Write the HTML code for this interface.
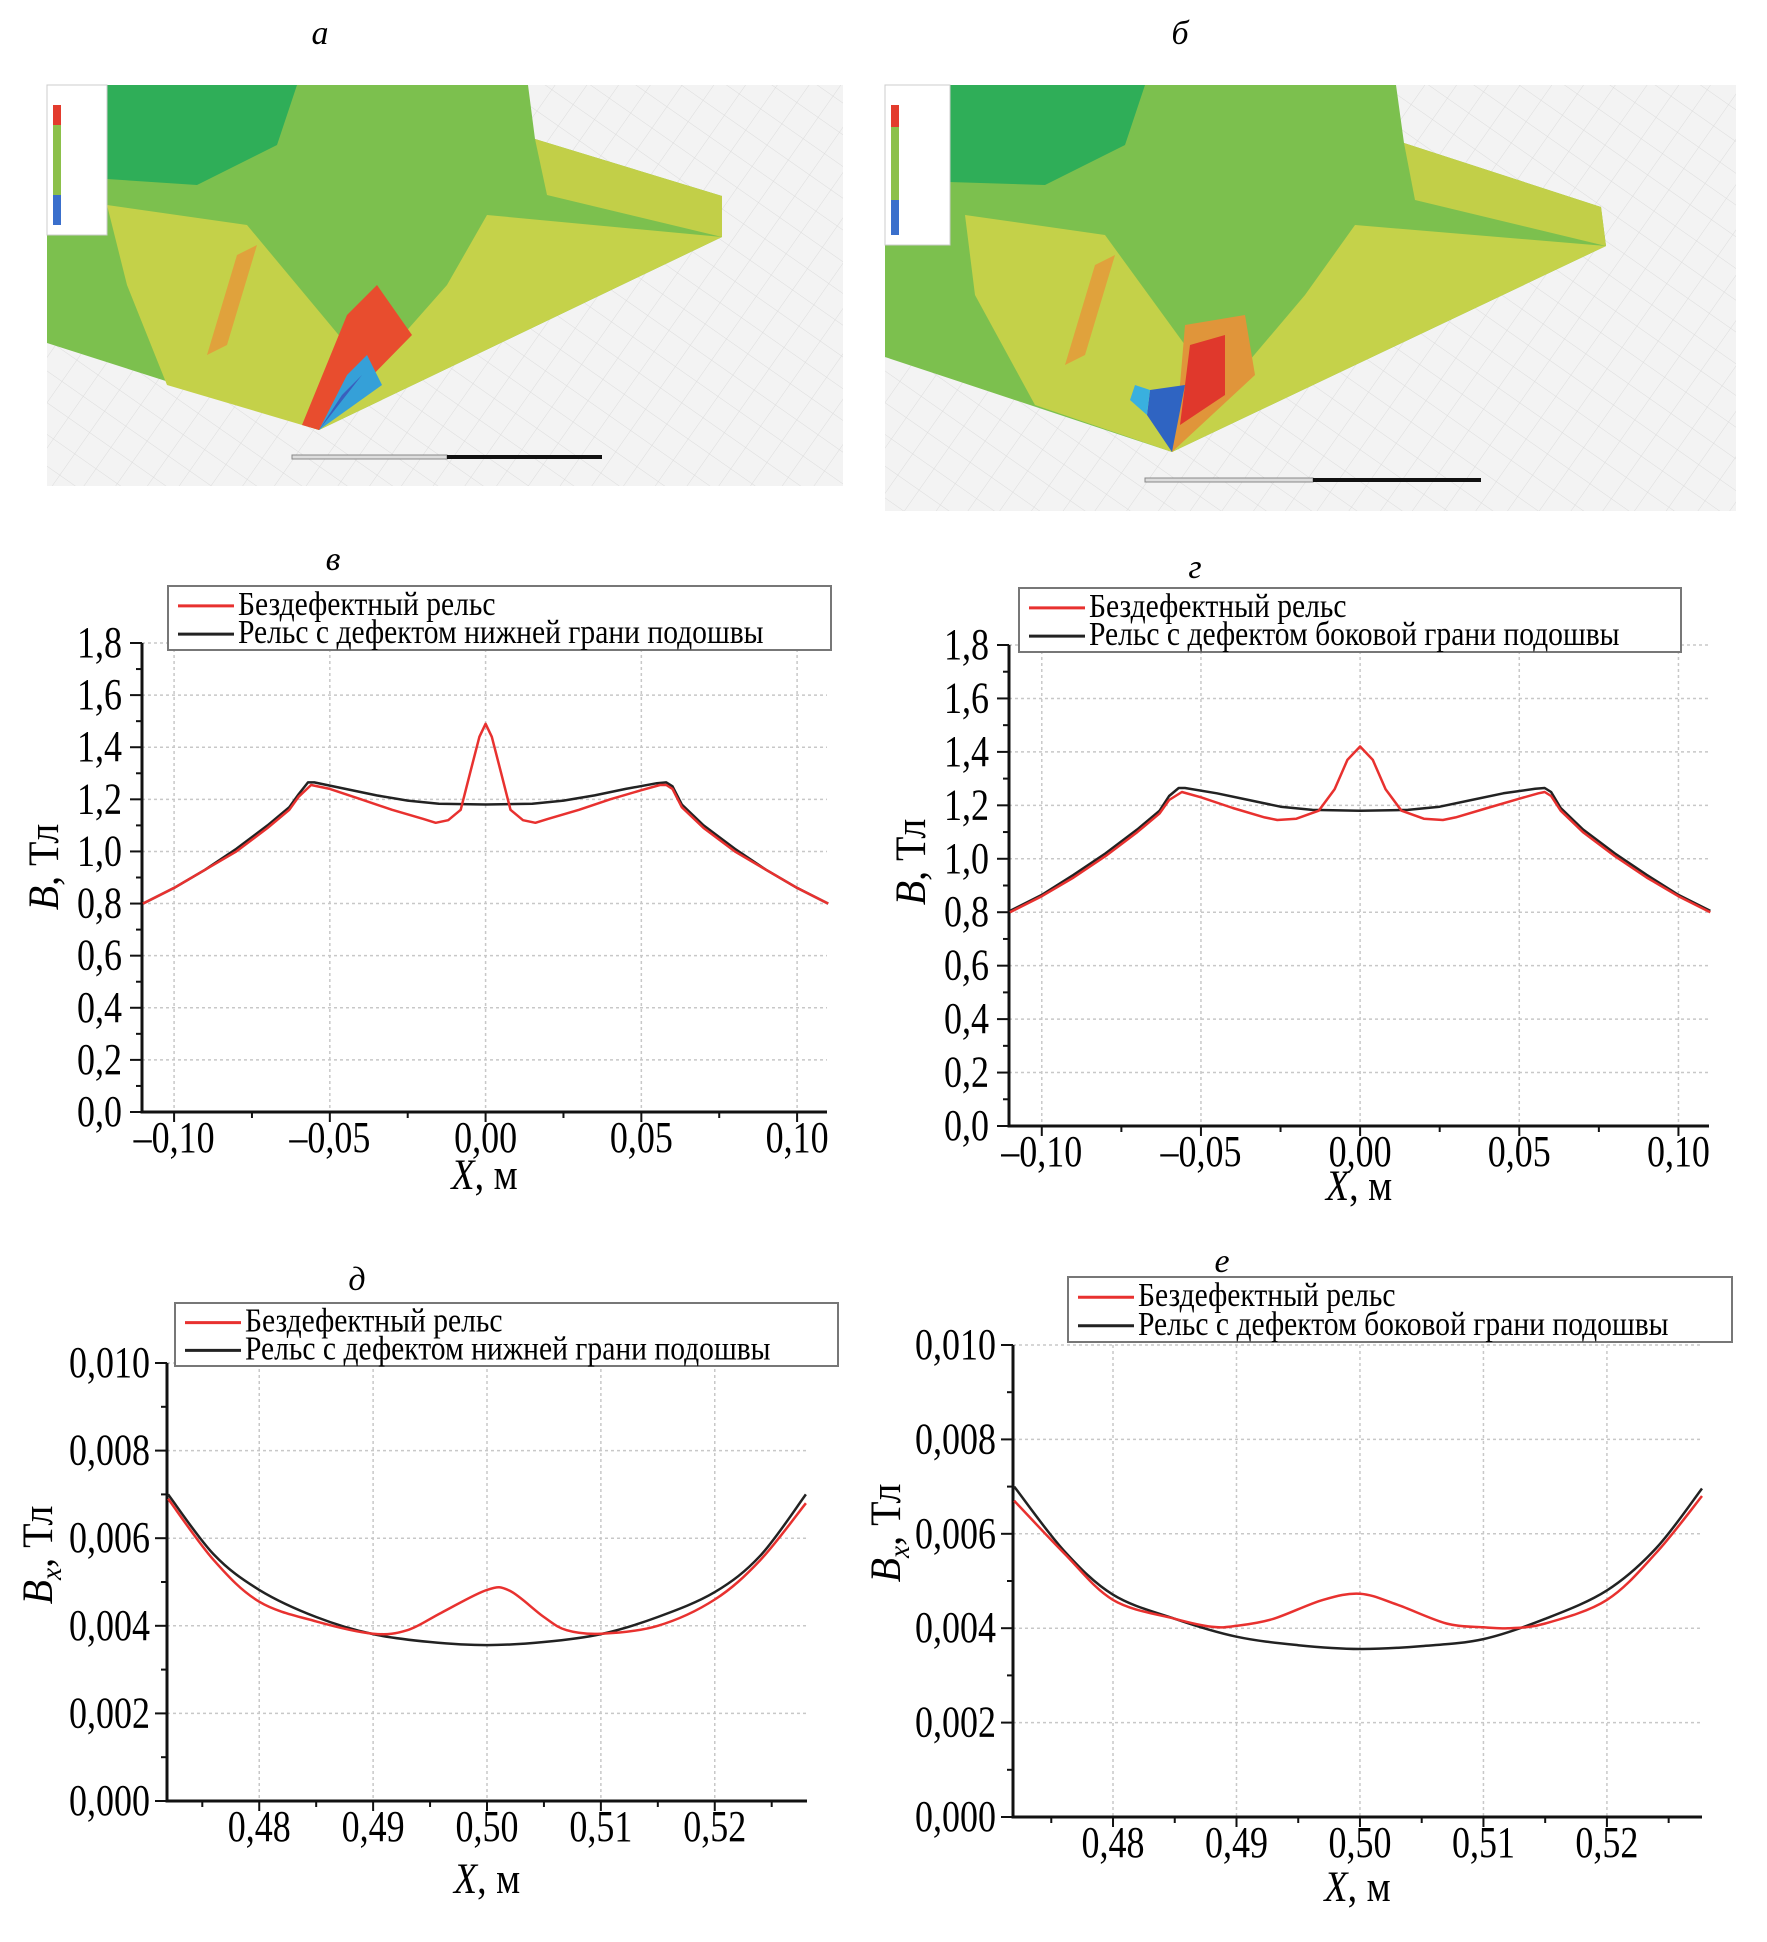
<!DOCTYPE html>
<html><head><meta charset="utf-8"><style>
html,body{margin:0;padding:0;background:#fff;}
svg{display:block;font-family:"Liberation Serif",serif;}
</style></head><body>
<svg id="root" width="1767" height="1942" viewBox="0 0 1767 1942" xmlns="http://www.w3.org/2000/svg">
<defs>
<pattern id="grid" width="26" height="26" patternUnits="userSpaceOnUse" patternTransform="rotate(35)">
<path d="M0 0H26M0 0V26" stroke="#dcdcdc" stroke-width="1" fill="none"/>
</pattern>
</defs>
<text x="320" y="44" font-size="34" font-style="italic" text-anchor="middle">а</text>
<text x="1180" y="44" font-size="34" font-style="italic" text-anchor="middle">б</text>
<text x="333" y="570" font-size="34" font-style="italic" text-anchor="middle">в</text>
<text x="1195" y="578" font-size="34" font-style="italic" text-anchor="middle">г</text>
<text x="357" y="1290" font-size="34" font-style="italic" text-anchor="middle">д</text>
<text x="1222" y="1272" font-size="34" font-style="italic" text-anchor="middle">е</text>

<g transform="translate(47,85)">
<rect width="796" height="401" fill="#f3f3f3"/>
<rect width="796" height="401" fill="url(#grid)"/>
<polygon points="0,0 481,0 488,54 675,111 675,152 272,345 0,258" fill="#7cc04e"/>
<polygon points="0,0 250,0 230,60 150,100 0,90" fill="#2fae58"/>
<polygon points="488,54 675,111 675,152 500,110" fill="#c2cf48"/>
<polygon points="440,130 675,152 272,345 400,200" fill="#c5d24a"/>
<polygon points="60,120 200,140 300,260 272,345 120,300 80,200" fill="#c4d149"/>
<polygon points="190,170 210,160 180,260 160,270" fill="#e0a23c"/>
<polygon points="300,230 330,200 365,250 272,345 255,340" fill="#e84d2e"/>
<polygon points="300,290 320,270 335,300 272,345" fill="#35a0d8"/>
<polygon points="295,310 315,290 272,345" fill="#3a5fbd"/>
<rect x="0" y="0" width="60" height="150" fill="#fff" stroke="#ccc"/>
<rect x="6" y="20" width="8" height="120" fill="#8cc04a"/>
<rect x="6" y="20" width="8" height="20" fill="#e33b2d"/>
<rect x="6" y="110" width="8" height="30" fill="#3a6fcc"/>
<rect x="245" y="370" width="155" height="4" fill="#ddd" stroke="#888"/>
<rect x="400" y="370" width="155" height="4" fill="#111"/>
</g>
<g transform="translate(885,85)">
<rect width="851" height="426" fill="#f3f3f3"/>
<rect width="851" height="426" fill="url(#grid)"/>
<polygon points="0,0 511,0 519,58 716,122 721,161 287,367 0,272" fill="#7cc04e"/>
<polygon points="0,0 260,0 240,60 160,100 0,95" fill="#2fae58"/>
<polygon points="519,58 716,122 721,161 530,115" fill="#c2cf48"/>
<polygon points="470,140 721,161 287,367 420,210" fill="#c5d24a"/>
<polygon points="80,130 220,150 300,260 287,367 150,320 90,210" fill="#c4d149"/>
<polygon points="210,180 230,170 200,270 180,280" fill="#e0a23c"/>
<polygon points="300,240 360,230 370,290 287,367 295,300" fill="#e0953a"/>
<polygon points="305,260 340,250 340,310 295,340" fill="#e0382c"/>
<polygon points="265,305 300,300 287,367 262,330" fill="#2f64c2"/>
<polygon points="250,300 265,305 262,330 245,315" fill="#39b0df"/>
<rect x="0" y="0" width="65" height="160" fill="#fff" stroke="#ccc"/>
<rect x="6" y="20" width="8" height="130" fill="#8cc04a"/>
<rect x="6" y="20" width="8" height="22" fill="#e33b2d"/>
<rect x="6" y="115" width="8" height="35" fill="#3a6fcc"/>
<rect x="260" y="393" width="168" height="4" fill="#ddd" stroke="#888"/>
<rect x="428" y="393" width="168" height="4" fill="#111"/>
</g>
<g id="charts"></g>
</svg>
<script>
// ---- Chart в data ----
const vX_black = [-0.11,-0.1,-0.09,-0.08,-0.07,-0.063,-0.06,-0.057,-0.055,-0.045,-0.035,-0.025,-0.015,0,0.015,0.025,0.035,0.045,0.055,0.058,0.06,0.063,0.07,0.08,0.09,0.1,0.11];
const vY_black = [0.80,0.86,0.93,1.01,1.10,1.17,1.22,1.265,1.265,1.24,1.215,1.195,1.183,1.18,1.183,1.195,1.215,1.24,1.262,1.265,1.25,1.18,1.10,1.01,0.93,0.86,0.80];
const vX_red = [-0.11,-0.1,-0.09,-0.08,-0.07,-0.063,-0.06,-0.056,-0.05,-0.04,-0.03,-0.02,-0.016,-0.012,-0.008,-0.005,-0.002,0,0.002,0.005,0.008,0.012,0.016,0.02,0.03,0.04,0.05,0.056,0.058,0.06,0.063,0.07,0.08,0.09,0.1,0.11];
const vY_red = [0.80,0.86,0.93,1.00,1.09,1.16,1.21,1.255,1.24,1.20,1.16,1.125,1.11,1.12,1.16,1.30,1.44,1.49,1.44,1.30,1.16,1.12,1.11,1.125,1.16,1.20,1.235,1.255,1.255,1.24,1.17,1.09,1.00,0.93,0.86,0.80];
const vXTicks = [-0.1,-0.05,0,0.05,0.1];
const vXTickLabels = ["–0,10","–0,05","0,00","0,05","0,10"];
const vYTicks = [0,0.2,0.4,0.6,0.8,1.0,1.2,1.4,1.6,1.8];
const vYTickLabels = ["0,0","0,2","0,4","0,6","0,8","1,0","1,2","1,4","1,6","1,8"];
// ---- Chart г data ----
const gX_black = [-0.11,-0.1,-0.09,-0.08,-0.07,-0.063,-0.06,-0.057,-0.055,-0.045,-0.035,-0.025,-0.015,0,0.015,0.025,0.035,0.045,0.055,0.058,0.06,0.063,0.07,0.08,0.09,0.1,0.11];
const gY_black = [0.805,0.865,0.94,1.02,1.11,1.18,1.235,1.265,1.265,1.245,1.22,1.195,1.183,1.18,1.183,1.195,1.22,1.245,1.262,1.265,1.25,1.19,1.11,1.02,0.94,0.865,0.805];
const gX_red = [-0.11,-0.1,-0.09,-0.08,-0.07,-0.063,-0.06,-0.056,-0.05,-0.04,-0.03,-0.026,-0.02,-0.013,-0.008,-0.004,0,0.004,0.008,0.013,0.02,0.026,0.03,0.04,0.05,0.056,0.058,0.06,0.063,0.07,0.08,0.09,0.1,0.11];
const gY_red = [0.80,0.86,0.93,1.01,1.10,1.17,1.22,1.25,1.23,1.19,1.155,1.145,1.15,1.18,1.26,1.37,1.42,1.37,1.26,1.18,1.15,1.145,1.155,1.19,1.225,1.245,1.25,1.235,1.18,1.10,1.01,0.93,0.86,0.80];
const gXTicks = [-0.1,-0.05,0,0.05,0.1];
const gXTickLabels = ["–0,10","–0,05","0,00","0,05","0,10"];
const gYTicks = [0,0.2,0.4,0.6,0.8,1.0,1.2,1.4,1.6,1.8];
const gYTickLabels = ["0,0","0,2","0,4","0,6","0,8","1,0","1,2","1,4","1,6","1,8"];
// ---- Chart д data ----
const dX_black = [0.472,0.476,0.48,0.485,0.49,0.495,0.5,0.505,0.51,0.515,0.52,0.524,0.528];
const dY_black = [0.0070,0.00563,0.00482,0.0042,0.00381,0.00363,0.00356,0.00363,0.00381,0.0042,0.00477,0.0056,0.0070];
const dX_red = [0.472,0.476,0.48,0.485,0.49,0.493,0.496,0.5,0.502,0.505,0.507,0.51,0.515,0.52,0.524,0.528];
const dY_red = [0.0069,0.0055,0.00455,0.0041,0.00382,0.0039,0.0043,0.00482,0.0048,0.0042,0.0039,0.00382,0.0040,0.0046,0.0055,0.0068];
const dXTicks = [0.48,0.49,0.50,0.51,0.52];
const dXTickLabels = ["0,48","0,49","0,50","0,51","0,52"];
const dYTicks = [0,0.002,0.004,0.006,0.008,0.010];
const dYTickLabels = ["0,000","0,002","0,004","0,006","0,008","0,010"];
// ---- Chart е data ----
const eX_black = [0.472,0.476,0.48,0.485,0.49,0.495,0.5,0.505,0.51,0.515,0.52,0.524,0.5277];
const eY_black = [0.0070,0.00565,0.00471,0.0042,0.00382,0.00364,0.00356,0.00362,0.00377,0.0042,0.0048,0.0057,0.00696];
const eX_red = [0.472,0.476,0.48,0.485,0.488,0.49,0.493,0.497,0.5,0.503,0.507,0.51,0.512,0.515,0.52,0.524,0.5277];
const eY_red = [0.0067,0.0056,0.0046,0.0042,0.00403,0.00405,0.0042,0.0046,0.00473,0.0045,0.0041,0.00402,0.0040,0.0041,0.0046,0.0056,0.0068];
const eXTicks = [0.48,0.49,0.50,0.51,0.52];
const eXTickLabels = ["0,48","0,49","0,50","0,51","0,52"];
const eYTicks = [0,0.002,0.004,0.006,0.008,0.010];
const eYTickLabels = ["0,000","0,002","0,004","0,006","0,008","0,010"];

const NS = "http://www.w3.org/2000/svg";
const host = document.getElementById('charts');
function mk(tag, attrs, parent){
  const e = document.createElementNS(NS, tag);
  for (const k in attrs) e.setAttribute(k, attrs[k]);
  (parent||host).appendChild(e);
  return e;
}
function stxt(parent, x, y, size, anchor, sx, sy){
  const w = mk('g', {transform:`translate(${x},${y}) scale(${sx},${sy})`}, parent);
  return mk('text', {x:0, y:0, 'font-size':size, 'text-anchor':anchor}, w);
}
function smoothPath(pts){
  let d = 'M' + pts[0][0].toFixed(1) + ',' + pts[0][1].toFixed(1);
  for (let i = 0; i < pts.length-1; i++){
    const p0 = pts[Math.max(0,i-1)], p1 = pts[i], p2 = pts[i+1], p3 = pts[Math.min(pts.length-1,i+2)];
    const c1 = [p1[0]+(p2[0]-p0[0])/6, p1[1]+(p2[1]-p0[1])/6];
    const c2 = [p2[0]-(p3[0]-p1[0])/6, p2[1]-(p3[1]-p1[1])/6];
    d += ` C${c1[0].toFixed(1)},${c1[1].toFixed(1)} ${c2[0].toFixed(1)},${c2[1].toFixed(1)} ${p2[0].toFixed(1)},${p2[1].toFixed(1)}`;
  }
  return d;
}
function chart(c){
  const g = mk('g', {});
  
  
  const sx = v => c.L + (v - c.xmin)/(c.xmax - c.xmin)*(c.R - c.L);
  const sy = v => c.B - (v - c.ymin)/(c.ymax - c.ymin)*(c.B - c.T);
  c.xt.forEach(v => {
    const l = mk('line', {x1:sx(v),x2:sx(v),y1:c.T,y2:c.B,stroke:'#c8c8c8','stroke-width':1.5,'stroke-dasharray':'3,3'}, g);
    
    
  });
  c.yt.forEach(v => {
    if (v === c.ymin) return;
    const l = mk('line', {x1:c.L,x2:c.R,y1:sy(v),y2:sy(v),stroke:'#c8c8c8','stroke-width':1.5,'stroke-dasharray':'3,3'}, g);
    
    
  });
  const ax = mk('path', {d:`M${c.L},${c.T} V${c.B} H${c.R}`, stroke:'#111','stroke-width':3, fill:'none'}, g);
  
  
  const dxT = c.xt[1]-c.xt[0];
  for (let v = c.xt[0]-dxT; v <= c.xmax+1e-9; v += dxT/2){
    if (v < c.xmin-1e-9) continue;
    const major = c.xt.some(t => Math.abs(t-v) < 1e-9);
    mk('line', {x1:sx(v),x2:sx(v),y1:c.B,y2:c.B+(major?10:6),stroke:'#111','stroke-width':2}, g);
  }
  const dyT = c.yt[1]-c.yt[0];
  for (let v = c.ymin; v <= c.ymax+1e-12; v += dyT/2){
    const major = c.yt.some(t => Math.abs(t-v) < 1e-12);
    mk('line', {x1:c.L-(major?12:6),x2:c.L,y1:sy(v),y2:sy(v),stroke:'#111','stroke-width':2}, g);
  }
  c.xt.forEach((v,i) => {
    const t = stxt(g, sx(v), c.B+40, 36, 'middle', 1, 1.22);
    t.textContent = c.xl[i];
    
    
  });
  c.yt.forEach((v,i) => {
    const t = stxt(g, c.L-c.ygap, sy(v)+14, 36, 'end', 1, 1.22);
    t.textContent = c.yl[i];
    
    
  });
  const xt = stxt(g, (c.L+c.R)/2, c.B+c.xtitleDy, 38, 'middle', 1, 1.15);
  xt.innerHTML = '<tspan font-style="italic">X</tspan>, м';
  
  
  const yt = mk('text', {x:0, y:0, 'font-size':38, 'text-anchor':'middle', transform:`translate(${c.ytx},${c.yty}) rotate(-90) scale(1.05,1.15)`}, g);
  yt.innerHTML = c.sub ? '<tspan font-style="italic">B</tspan><tspan font-style="italic" font-size="26" dy="8">x</tspan><tspan dy="-8">, Тл</tspan>' : '<tspan font-style="italic">B</tspan>, Тл';
  
  
  const line = (xs, ys, col, nm) => {
    const pts = xs.map((x,i) => [sx(x), sy(ys[i])]);
    const d = c.smooth ? smoothPath(pts) : pts.map((p,i) => (i?'L':'M') + p[0].toFixed(1) + ',' + p[1].toFixed(1)).join(' ');
    const p = mk('path', {d, stroke:col, 'stroke-width':2.5, fill:'none', 'stroke-linejoin':'round'}, g);
    
    
  };
  line(c.bx, c.by, '#222', 'defect-rail-line');
  line(c.rx, c.ry, '#e8312f', 'defect-free-rail-line');
  const lg = mk('g', {}, g);
  
  
  mk('rect', {x:c.lg[0], y:c.lg[1], width:c.lg[2]-c.lg[0], height:c.lg[3]-c.lg[1], fill:'#fff', stroke:'#777','stroke-width':2}, lg);
  const h = c.lg[3]-c.lg[1];
  const r1 = c.lg[1]+h*0.28, r2 = c.lg[1]+h*0.72;
  mk('line', {x1:c.lg[0]+10, x2:c.lg[0]+66, y1:r1+2, y2:r1+2, stroke:'#e8312f','stroke-width':3}, lg);
  mk('line', {x1:c.lg[0]+10, x2:c.lg[0]+66, y1:r2+2, y2:r2+2, stroke:'#222','stroke-width':3}, lg);
  const t1 = stxt(lg, c.lg[0]+70, r1+11, 29, 'start', 1.02, 1.18);
  t1.textContent = 'Бездефектный рельс';
  
  
  const t2 = stxt(lg, c.lg[0]+70, r2+11, 29, 'start', 1.02, 1.18);
  t2.textContent = c.leg2;
  
  
}
chart({name:'chart-v', L:142,R:827,T:643,B:1112,xmin:-0.1103,xmax:0.1096,ymin:0,ymax:1.8,
  xt:vXTicks,xl:vXTickLabels,yt:vYTicks,yl:vYTickLabels,bx:vX_black,by:vY_black,rx:vX_red,ry:vY_red,
  ygap:20,xtitleDy:77,ytx:58,yty:867,lg:[168,586,831,650],leg2:'Рельс с дефектом нижней грани подошвы'});
chart({name:'chart-g', L:1009,R:1709,T:645,B:1126,xmin:-0.1103,xmax:0.1096,ymin:0,ymax:1.8,
  xt:gXTicks,xl:gXTickLabels,yt:gYTicks,yl:gYTickLabels,bx:gX_black,by:gY_black,rx:gX_red,ry:gY_red,
  ygap:20,xtitleDy:74,ytx:925,yty:862,lg:[1019,588,1681,652],leg2:'Рельс с дефектом боковой грани подошвы'});
chart({name:'chart-d', L:167,R:807,T:1363,B:1801,xmin:0.4719,xmax:0.5281,ymin:0,ymax:0.010,smooth:true,
  xt:dXTicks,xl:dXTickLabels,yt:dYTicks,yl:dYTickLabels,bx:dX_black,by:dY_black,rx:dX_red,ry:dY_red,sub:true,
  ygap:17,xtitleDy:92,ytx:52,yty:1555,lg:[175,1303,838,1366],leg2:'Рельс с дефектом нижней грани подошвы'});
chart({name:'chart-e', L:1013,R:1702,T:1345,B:1817,xmin:0.4719,xmax:0.5277,ymin:0,ymax:0.010,smooth:true,
  xt:eXTicks,xl:eXTickLabels,yt:eYTicks,yl:eYTickLabels,bx:eX_black,by:eY_black,rx:eX_red,ry:eY_red,sub:true,
  ygap:17,xtitleDy:84,ytx:900,yty:1533,lg:[1068,1277,1732,1342],leg2:'Рельс с дефектом боковой грани подошвы'});
</script>
</body></html>
